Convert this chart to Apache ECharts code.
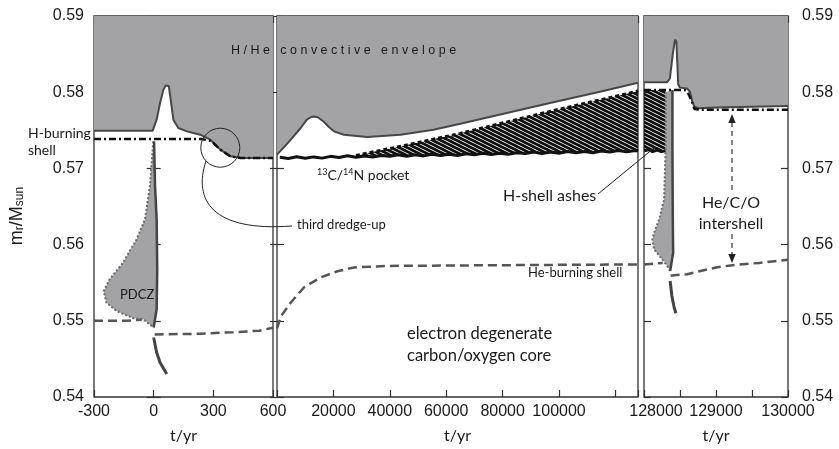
<!DOCTYPE html>
<html><head><meta charset="utf-8">
<script src="https://cdn.jsdelivr.net/npm/echarts@6/dist/echarts.min.js"></script>
<style>html,body{margin:0;padding:0;background:#fff}#c{width:839px;height:449px}</style>
</head><body><div id="c"></div><script>
// ---------------- data ----------------
const leftTickLabels = [-300, 0, 300, 600];
const midTickLabels = [20000, 40000, 60000, 80000, 100000];
const rightTickLabels = [128000, 129000, 130000];
const yTickLabels = [0.54, 0.55, 0.56, 0.57, 0.58, 0.59];

// convective envelope lower boundary [t, m]
const envLeft = [[-300,0.57495],[-5,0.57495],[15,0.57639],[32,0.57857],[49,0.58031],[60,0.58088],[68,0.58097],[76,0.58080],[82,0.58054],[88,0.57857],[99,0.57639],[124,0.5753],[167,0.57486],[234,0.57442],[285,0.57377],[335,0.57246],[386,0.57158],[437,0.57137],[600,0.57137]];
const envMid = [[0,0.5718],[2500,0.5728],[4900,0.57377],[8400,0.5753],[10600,0.57639],[12000,0.57671],[13100,0.57682],[14500,0.57671],[16600,0.57613],[18300,0.57547],[20200,0.57486],[23700,0.57442],[32000,0.57412],[43800,0.57442],[55500,0.57508],[65000,0.57586],[96800,0.57857],[114500,0.58005],[128000,0.58125]];
const envRight = [[128000,0.5813],[128320,0.5813],[128360,0.5818],[128400,0.5850],[128425,0.5866],[128435,0.5869],[128450,0.5866],[128462,0.5840],[128475,0.5810],[128500,0.5806],[128600,0.5805],[128640,0.5800],[128670,0.5788],[128700,0.5781],[128770,0.5779],[129000,0.5780],[129500,0.5781],[130000,0.5782]];

// H-burning shell
const hShellLeft = [[-300,0.57386],[240,0.57386],[290,0.5736],[335,0.57246],[386,0.57158],[437,0.57137],[600,0.57137]];
const hShellMid = [[28000,0.5717],[33000,0.5721],[44000,0.5729],[65000,0.5746],[97000,0.5775],[127500,0.5801],[128000,0.5802]];
const hShellRight = [[128000,0.5803],[128560,0.5803],[128600,0.5801],[128656,0.5790],[128700,0.5778],[128780,0.5777],[130000,0.5777]];

// 13C/14N pocket
const pocketMid = [[1000,0.57146],[4000,0.57130],[7000,0.57152],[10000,0.57132],[13000,0.57151],[16000,0.57135],[19000,0.57158],[22000,0.57144],[25000,0.57165],[28000,0.57147],[31000,0.57163],[34000,0.57149],[37000,0.57170],[40000,0.57159],[43000,0.57179],[46000,0.57159],[49000,0.57178],[52000,0.57164],[55000,0.57186],[58000,0.57170],[61000,0.57186],[64000,0.57170],[67000,0.57193],[70000,0.57180],[73000,0.57200],[76000,0.57182],[79000,0.57198],[82000,0.57184],[85000,0.57206],[88000,0.57194],[91000,0.57214],[94000,0.57194],[97000,0.57214],[100000,0.57200],[103000,0.57221],[106000,0.57205],[109000,0.57221],[112000,0.57206],[115000,0.57229],[118000,0.57215],[121000,0.57235],[124000,0.57217],[127000,0.57234],[128000,0.5723]];
const pocketRight = [[128000,0.5723],[128060,0.57245],[128120,0.5722],[128180,0.5724],[128240,0.5722],[128300,0.5723]];
// lower edge of H-shell ashes
const ashBaseMid = [[128000,0.5723],[100000,0.5721],[64000,0.5718],[40000,0.5716],[28000,0.5717]];
const ashRight = [[128000,0.5803],[128300,0.5803],[128300,0.5723],[128000,0.5723]];

// pulse-driven convective zones
const pdczLeftOuter = [[-2,0.57355],[-19,0.56766],[-44,0.5633],[-86,0.56068],[-154,0.55763],[-221,0.55545],[-251,0.55391],[-238,0.5524],[-187,0.5513],[-103,0.55034],[-53,0.55021],[0,0.54912]];
const pdczLeftInner = [[0,0.54912],[15,0.55152],[18,0.55675],[15,0.5633],[7,0.56766],[2,0.57355]];
const pdczRightOuter = [[128300,0.5800],[128300,0.5725],[128279,0.56592],[128209,0.5633],[128140,0.56156],[128116,0.56068],[128140,0.55937],[128233,0.55829],[128325,0.55719],[128363,0.55653]];
const pdczRightInner = [[128363,0.55653],[128405,0.55894],[128400,0.5633],[128395,0.5725],[128395,0.5803]];

// core boundary below pulse
const coreLeft = [[0,0.54781],[15,0.54585],[32,0.54454],[66,0.54301]];
const coreRight = [[128363,0.55522],[128387,0.55326],[128419,0.55174],[128443,0.55099]];

// He-burning shell
const heLeftA = [[-300,0.5500],[-140,0.5500],[-60,0.55015]];
const heLeftB = [[5,0.5482],[230,0.5483],[400,0.5485],[530,0.5487],[600,0.5491]];
const heMid = [[0,0.5490],[1400,0.5506],[4900,0.5524],[9600,0.5544],[15500,0.5557],[21400,0.5565],[27300,0.5570],[39000,0.5572],[80000,0.5573],[128000,0.5574]];
const heRightA = [[128000,0.5574],[128150,0.5575],[128260,0.5576]];
const heRightB = [[128370,0.5559],[128450,0.5560],[128600,0.5561],[128770,0.5565],[129000,0.5570],[129230,0.5573],[129600,0.5576],[130000,0.5580]];

// ---------------- style ----------------
const GRAY = '#a3a3a5', FRAME = '#333', TXT = '#1a1a1a';
const ANNOT = 'Lato', NUMF = 'Liberation Sans';

const pc = document.createElement('canvas'); pc.width = 8; pc.height = 4;
const pctx = pc.getContext('2d');
pctx.strokeStyle = '#0d0d0d'; pctx.lineWidth = 2.9;
for (let k = -2; k <= 2; k++) { pctx.beginPath(); pctx.moveTo(-8, 4*k-4); pctx.lineTo(16, 4*k+8); pctx.stroke(); }
const hatch = {image: pc, repeat: 'repeat'};

const grids = [
  {left: 94, top: 16, width: 179, height: 382},
  {left: 277, top: 16, width: 361, height: 382},
  {left: 644, top: 16, width: 144, height: 382}
].map(g => Object.assign(g, {show: true, borderColor: FRAME, borderWidth: 1.3, backgroundColor: 'transparent'}));

const tick = {show: true, inside: true, length: 7, lineStyle: {color: FRAME, width: 1.2}};
const lab = {color: TXT, fontFamily: NUMF, fontSize: 16};
function xa(gi, min, max, interval, labels, pos) {
  const a = {gridIndex: gi, type: 'value', min, max, interval, position: pos,
    axisLine: {show: false}, axisTick: tick, splitLine: {show: false}};
  if (labels) {
    a.axisLabel = Object.assign({margin: 7, showMinLabel: true, showMaxLabel: true,
      formatter: v => labels.indexOf(v) < 0 ? '' : (gi === 2 && v === min ? '{p|' + v + '}' : String(v)),
      rich: {p: {fontFamily: NUMF, fontSize: 16, color: TXT, padding: [0, 0, 0, 24]}}}, lab);
    a.name = 't/yr'; a.nameLocation = 'middle'; a.nameGap = 31;
    a.nameTextStyle = {fontFamily: ANNOT, fontSize: 16, color: TXT};
  } else a.axisLabel = {show: false};
  return a;
}
function ya(gi, pos, labels, margin) {
  const a = {gridIndex: gi, type: 'value', min: 0.54, max: 0.59, interval: 0.01, position: pos,
    axisLine: {show: false}, axisTick: tick, splitLine: {show: false}};
  if (labels) a.axisLabel = Object.assign({margin, formatter: v => {
      const f = v.toFixed(2); return labels.some(l => l.toFixed(2) === f) ? f : ''; }}, lab);
  else a.axisLabel = {show: false};
  return a;
}

function line(data, gi, color, width, type, z, extra) {
  return Object.assign({type: 'line', xAxisIndex: gi, yAxisIndex: gi, data, symbol: 'none',
    silent: true, z, clip: true, lineStyle: {color, width, type}}, extra || {});
}
function poly(pts, gi, fill, z) {
  return {type: 'custom', xAxisIndex: gi, yAxisIndex: gi, z, silent: true, data: [pts[0]],
    renderItem: (p, api) => ({type: 'polygon', shape: {points: pts.map(q => api.coord(q))},
      style: {fill: fill, stroke: null}})};
}
const DASHDOT = [7, 3, 2, 3], HEDASH = [9, 5];
const envArea = {areaStyle: {color: GRAY, origin: 'end', opacity: 1}};

const series = [
  // left panel
  line(envLeft, 0, '#474747', 2, 'solid', 2, envArea),
  poly(pdczLeftOuter.concat(pdczLeftInner), 0, GRAY, 3),
  line(heLeftA, 0, '#555', 2.5, HEDASH, 4),
  line(heLeftB, 0, '#555', 2.5, HEDASH, 4),
  line(pdczLeftOuter, 0, '#6a6a6a', 2, 'dotted', 5),
  line(pdczLeftInner, 0, '#444', 2.5, 'solid', 5),
  line(coreLeft, 0, '#444', 3, 'solid', 5),
  line(hShellLeft, 0, '#111', 2.5, DASHDOT, 6),
  // middle panel
  line(envMid, 1, '#474747', 2, 'solid', 2, envArea),
  poly(hShellMid.concat(ashBaseMid), 1, hatch, 3),
  line(pocketMid, 1, '#111', 3, 'solid', 4),
  line(hShellMid, 1, '#111', 3, [4, 3], 5),
  line(heMid, 1, '#555', 2.5, HEDASH, 4),
  // right panel
  line(envRight, 2, '#474747', 2, 'solid', 2, envArea),
  poly(ashRight, 2, hatch, 3),
  line(pocketRight, 2, '#111', 3, 'solid', 4),
  poly(pdczRightOuter.concat(pdczRightInner), 2, GRAY, 3),
  line(heRightA, 2, '#555', 2.5, HEDASH, 4),
  line(heRightB, 2, '#555', 2.5, HEDASH, 4),
  line(pdczRightOuter, 2, '#6a6a6a', 2, 'dotted', 5),
  line(pdczRightInner, 2, '#444', 2.5, 'solid', 5),
  line(coreRight, 2, '#444', 3, 'solid', 5),
  line(hShellRight, 2, '#111', 2.5, DASHDOT, 6)
];

function txt(x, y, s, size, extra) {
  return {type: 'text', x, y, z: 100, style: Object.assign({text: s, fontFamily: ANNOT, fontSize: size,
    fill: TXT, align: 'left', verticalAlign: 'middle'}, extra || {})};
}
const graphic = [
  txt(231, 51, 'H / H e   c o n v e c t i v e   e n v e l o p e', 12.5, {fontFamily: NUMF}),
  txt(28, 133, 'H-burning', 14),
  txt(28, 150, 'shell', 14),
  {type: 'circle', z: 100, shape: {cx: 220.3, cy: 147.7, r: 19.5}, style: {fill: null, stroke: '#222', lineWidth: 1}},
  {type: 'bezierCurve', z: 100, shape: {x1: 206, y1: 161, cpx1: 193, cpy1: 200, cpx2: 212, cpy2: 232, x2: 292, y2: 226},
    style: {fill: null, stroke: '#222', lineWidth: 1}},
  txt(297, 225, 'third dredge-up', 13),
  {type: 'text', x: 317, y: 175, z: 100, style: {text: '{s|13}{n|C/}{s|14}{n|N pocket}', align: 'left', verticalAlign: 'middle',
    rich: {n: {fontFamily: ANNOT, fontSize: 14, fill: TXT}, s: {fontFamily: ANNOT, fontSize: 9, fill: TXT, verticalAlign: 'top'}}}},
  txt(503, 196, 'H-shell ashes', 16),
  {type: 'line', z: 100, shape: {x1: 598, y1: 194, x2: 654, y2: 148}, style: {stroke: '#222', lineWidth: 1}},
  txt(120, 295, 'PDCZ', 13),
  txt(528, 273, 'He-burning shell', 13),
  txt(407, 334, 'electron degenerate', 16.5),
  txt(407, 356, 'carbon/oxygen core', 16.5),
  txt(731, 203, 'He/C/O', 16, {align: 'center'}),
  txt(731, 224, 'intershell', 16, {align: 'center'}),
  {type: 'line', z: 100, shape: {x1: 732, y1: 122, x2: 732, y2: 192}, style: {stroke: '#333', lineWidth: 1.2, lineDash: [5, 4]}},
  {type: 'line', z: 100, shape: {x1: 732, y1: 234, x2: 732, y2: 255}, style: {stroke: '#333', lineWidth: 1.2, lineDash: [5, 4]}},
  {type: 'polygon', z: 100, shape: {points: [[732, 114], [728.3, 123], [735.7, 123]]}, style: {fill: '#222'}},
  {type: 'polygon', z: 100, shape: {points: [[732, 263], [728.3, 254], [735.7, 254]]}, style: {fill: '#222'}},
  {type: 'text', x: 17, y: 216, rotation: Math.PI / 2, z: 100, style: {text: '{n|m}{s|r}{n|/M}{s|sun}', align: 'center', verticalAlign: 'middle',
    rich: {n: {fontFamily: NUMF, fontSize: 18, fill: TXT}, s: {fontFamily: NUMF, fontSize: 12, fill: TXT, verticalAlign: 'bottom'}}}}
];

const chart = echarts.init(document.getElementById('c'), null, {renderer: 'canvas'});
chart.setOption({
  animation: false,
  grid: grids,
  xAxis: [
    xa(0, -300, 600, 300, leftTickLabels, 'bottom'),
    xa(1, 0, 128000, 20000, midTickLabels, 'bottom'),
    xa(2, 128000, 130000, 500, rightTickLabels, 'bottom'),
    xa(0, -300, 600, 300, null, 'top'),
    xa(1, 0, 128000, 20000, null, 'top'),
    xa(2, 128000, 130000, 500, null, 'top')
  ],
  yAxis: [
    ya(0, 'left', yTickLabels, 10),
    ya(1, 'left', null),
    ya(2, 'right', yTickLabels, 14),
    ya(0, 'right', null),
    ya(1, 'right', null),
    ya(2, 'left', null)
  ],
  series,
  graphic
});
</script></body></html>
